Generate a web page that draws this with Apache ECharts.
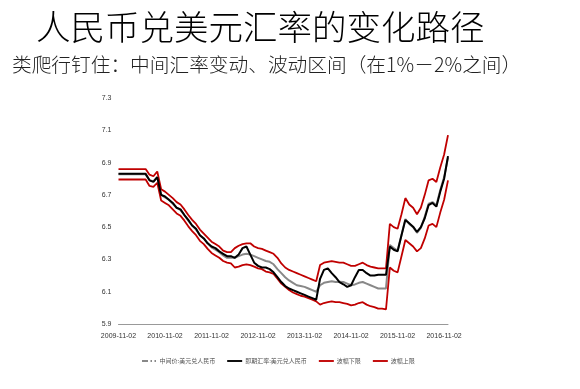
<!DOCTYPE html>
<html>
<head>
<meta charset="utf-8">
<script src="https://cdn.jsdelivr.net/npm/echarts@6/dist/echarts.min.js"></script>
<style>html,body{margin:0;padding:0;background:#fff;}#c{width:580px;height:389px;}</style>
</head>
<body>
<div id="c"></div>
<script>
// Monthly categories, 2009-11-02 .. 2016-12-02
var categories = [];
(function(){
  var y = 2009, m = 11;
  for (var i = 0; i < 86; i++) {
    categories.push(y + '-' + (m < 10 ? '0' + m : m) + '-02');
    m++; if (m > 12) { m = 1; y++; }
  }
})();

var yTicks = [5.9, 6.1, 6.3, 6.5, 6.7, 6.9, 7.1, 7.3];

var midRate = [6.827,6.827,6.827,6.827,6.827,6.827,6.827,6.827,
  6.79,6.785,6.81,6.70,6.685,6.67,6.645,6.62,6.605,6.575,6.54,6.51,6.485,6.45,6.43,6.40,6.375,6.36,6.345,6.325,6.31,6.31,
  6.31,6.32,6.33,6.335,6.33,6.32,6.31,6.30,6.29,6.285,6.27,6.24,6.215,6.19,6.17,6.155,6.14,6.135,6.13,6.12,6.11,6.10,
  6.14,6.155,6.16,6.165,6.16,6.162,6.16,6.15,6.14,6.145,6.155,6.16,6.15,6.14,6.13,6.12,6.12,6.12,
  6.39,6.37,6.355,6.45,6.55,6.52,6.50,6.465,6.495,6.565,6.645,6.655,6.635,6.73,6.81,6.93];

var spotRate = [6.83,6.83,6.83,6.83,6.83,6.83,6.83,6.83,
  6.79,6.78,6.81,6.70,6.69,6.67,6.65,6.62,6.61,6.575,6.545,6.51,6.49,6.45,6.43,6.40,6.38,6.37,6.35,6.335,6.32,6.32,
  6.31,6.33,6.37,6.38,6.33,6.28,6.26,6.25,6.25,6.24,6.22,6.19,6.16,6.135,6.12,6.11,6.10,6.09,6.08,6.07,6.06,6.05,
  6.18,6.235,6.245,6.215,6.19,6.16,6.146,6.13,6.14,6.19,6.235,6.235,6.215,6.20,6.20,6.205,6.205,6.205,
  6.38,6.36,6.35,6.45,6.545,6.524,6.503,6.47,6.50,6.555,6.637,6.65,6.627,6.72,6.80,6.94];

var bandLow = [6.795,6.795,6.795,6.795,6.795,6.795,6.795,6.795,
  6.755,6.75,6.775,6.665,6.65,6.635,6.61,6.585,6.57,6.54,6.505,6.475,6.45,6.415,6.395,6.365,6.34,6.325,6.31,6.29,6.28,6.275,
  6.25,6.255,6.265,6.27,6.265,6.255,6.245,6.24,6.225,6.22,6.21,6.18,6.15,6.13,6.11,6.095,6.085,6.075,6.07,6.06,6.05,6.04,
  6.02,6.03,6.035,6.04,6.035,6.035,6.03,6.025,6.015,6.02,6.03,6.035,6.02,6.01,6.005,5.995,5.995,5.99,
  6.25,6.23,6.22,6.32,6.42,6.40,6.38,6.35,6.37,6.43,6.51,6.52,6.50,6.59,6.67,6.79];

var bandHigh = [6.86,6.86,6.86,6.86,6.86,6.86,6.86,6.86,
  6.825,6.815,6.845,6.735,6.72,6.70,6.68,6.655,6.64,6.61,6.575,6.545,6.52,6.485,6.46,6.435,6.41,6.395,6.38,6.355,6.345,6.345,
  6.37,6.385,6.395,6.40,6.40,6.38,6.37,6.365,6.355,6.345,6.335,6.31,6.275,6.25,6.235,6.225,6.215,6.205,6.195,6.185,6.175,6.165,
  6.265,6.28,6.285,6.29,6.285,6.28,6.28,6.27,6.26,6.26,6.27,6.28,6.265,6.255,6.25,6.245,6.245,6.245,
  6.52,6.50,6.49,6.58,6.68,6.64,6.62,6.58,6.62,6.70,6.79,6.80,6.78,6.87,6.95,7.07];

var seriesNames = ['中间价:美元兑人民币', '即期汇率:美元兑人民币', '波幅下限', '波幅上限'];

var chart = echarts.init(document.getElementById('c'), null, {renderer: 'canvas'});
var RED = '#c00000';
var solidIcon = 'path://M0,0H16V2H0Z';
chart.setOption({
  animation: false,
  backgroundColor: '#fff',
  title: [
    {text: '人民币兑美元汇率的变化路径', left: 31, top: 5,
     textStyle: {fontFamily: 'Noto Sans CJK SC', fontSize: 34.5, fontWeight: 300, color: '#000'}},
    {text: '类爬行钉住：中间汇率变动、波动区间（在1%－2%之间）', left: 7, top: 50,
     textStyle: {fontFamily: 'Noto Sans CJK SC', fontSize: 19.7, fontWeight: 300, color: '#222'}}
  ],
  grid: {left: 118.5, right: 132, top: 98, bottom: 65, containLabel: false},
  legend: {
    left: 137, top: 353, itemWidth: 15, itemHeight: 2, itemGap: 12,
    textStyle: {fontSize: 6, color: '#555', fontFamily: 'Noto Sans CJK SC', padding: [0, 0, 0, -2]},
    data: [
      {name: seriesNames[0], icon: 'path://M0,0H6V2H0Z M8.5,0H10V2H8.5Z M12.5,0H14V2H12.5Z', itemStyle: {color: '#888'}},
      {name: seriesNames[1], icon: solidIcon},
      {name: seriesNames[2], icon: solidIcon},
      {name: seriesNames[3], icon: solidIcon}
    ]
  },
  xAxis: {
    type: 'category', data: categories, boundaryGap: false,
    axisLine: {show: true, lineStyle: {color: '#999', width: 1}},
    axisTick: {show: false},
    axisLabel: {interval: 11, fontSize: 7, color: '#333', margin: 9, fontFamily: 'Liberation Sans'},
    splitLine: {show: false}
  },
  yAxis: {
    type: 'value', min: yTicks[0], max: yTicks[yTicks.length - 1], interval: 0.2,
    axisLine: {show: false}, axisTick: {show: false}, splitLine: {show: false},
    axisLabel: {fontSize: 7, color: '#333', margin: 7, fontFamily: 'Liberation Sans',
      formatter: function(v){ return v.toFixed(1); }}
  },
  series: [
    {name: seriesNames[0], type: 'line', data: midRate, symbol: 'none', z: 2,
     lineStyle: {color: '#888', width: 2}, itemStyle: {color: '#888'}},
    {name: seriesNames[1], type: 'line', data: spotRate, symbol: 'none', z: 4,
     lineStyle: {color: '#000', width: 2}, itemStyle: {color: '#000'}},
    {name: seriesNames[2], type: 'line', data: bandLow, symbol: 'none', z: 3,
     lineStyle: {color: RED, width: 1.8}, itemStyle: {color: RED}},
    {name: seriesNames[3], type: 'line', data: bandHigh, symbol: 'none', z: 3,
     lineStyle: {color: RED, width: 1.8}, itemStyle: {color: RED}}
  ]
});
</script>
</body>
</html>
